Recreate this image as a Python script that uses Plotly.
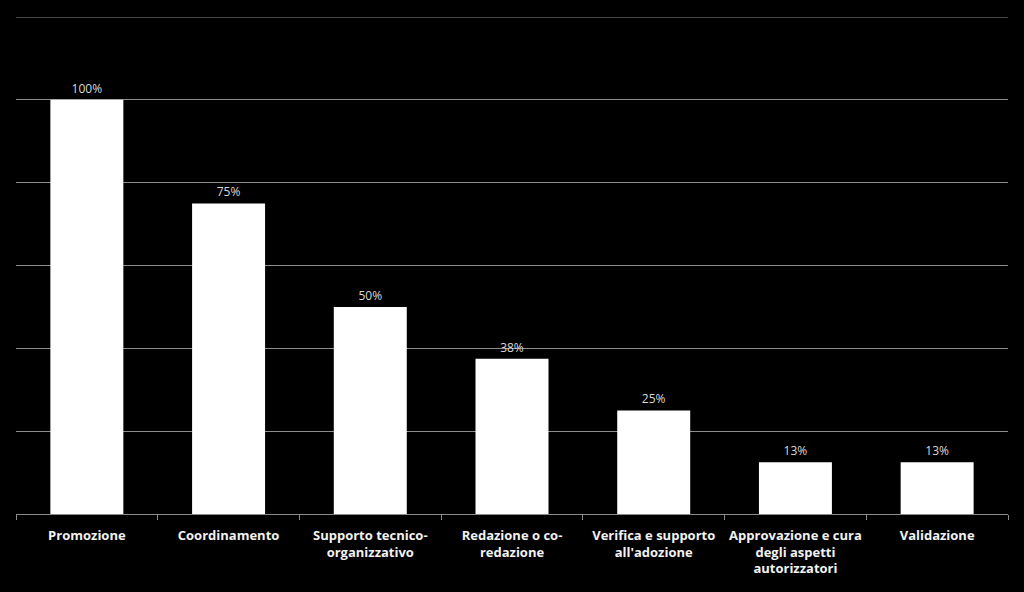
import plotly.graph_objects as go

categories = [
    "Promozione",
    "Coordinamento",
    "Supporto tecnico-<br>organizzativo",
    "Redazione o co-<br>redazione",
    "Verifica e supporto<br>all'adozione",
    "Approvazione e cura<br>degli aspetti<br>autorizzatori",
    "Validazione",
]
values = [1.0, 0.75, 0.5, 0.375, 0.25, 0.125, 0.125]
value_labels = ["100%", "75%", "50%", "38%", "25%", "13%", "13%"]
y_max = 1.2

fig = go.Figure(
    go.Bar(
        x=categories,
        y=values,
        text=value_labels,
        textposition="outside",
        texttemplate="%{text}",
        textfont=dict(family="Open Sans", size=12, color="#d9d9d9"),
        marker=dict(color="#ffffff", line=dict(width=0)),
        cliponaxis=False,
    )
)

fig.update_layout(
    width=1024,
    height=592,
    paper_bgcolor="#000000",
    plot_bgcolor="#000000",
    margin=dict(l=16, r=16, t=17, b=78),
    bargap=0.485,
    showlegend=False,
    font=dict(family="Open Sans", color="#f2f2f2"),
)

# top gridline at the end of the value range
fig.add_shape(
    type="line", xref="paper", yref="y",
    x0=0, x1=1, y0=y_max, y1=y_max,
    line=dict(color="#8c8c8c", width=1),
    layer="below",
)

fig.update_xaxes(
    type="category",
    showgrid=False,
    showline=True,
    linecolor="#8c8c8c",
    linewidth=1,
    ticks="outside",
    tickson="boundaries",
    ticklen=5,
    tickcolor="#8c8c8c",
    ticklabelstandoff=9,
    tickfont=dict(family="Open Sans", size=13, color="#f2f2f2", weight="bold"),
)

fig.update_yaxes(
    range=[0, y_max],
    dtick=0.2,
    showgrid=True,
    gridcolor="#8c8c8c",
    gridwidth=1,
    showticklabels=False,
    zeroline=False,
    showline=False,
)

fig.write_html(
    "out.html",
    config={"displayModeBar": False},
    post_script="document.body.style.margin='0';document.body.style.background='#000';",
)
